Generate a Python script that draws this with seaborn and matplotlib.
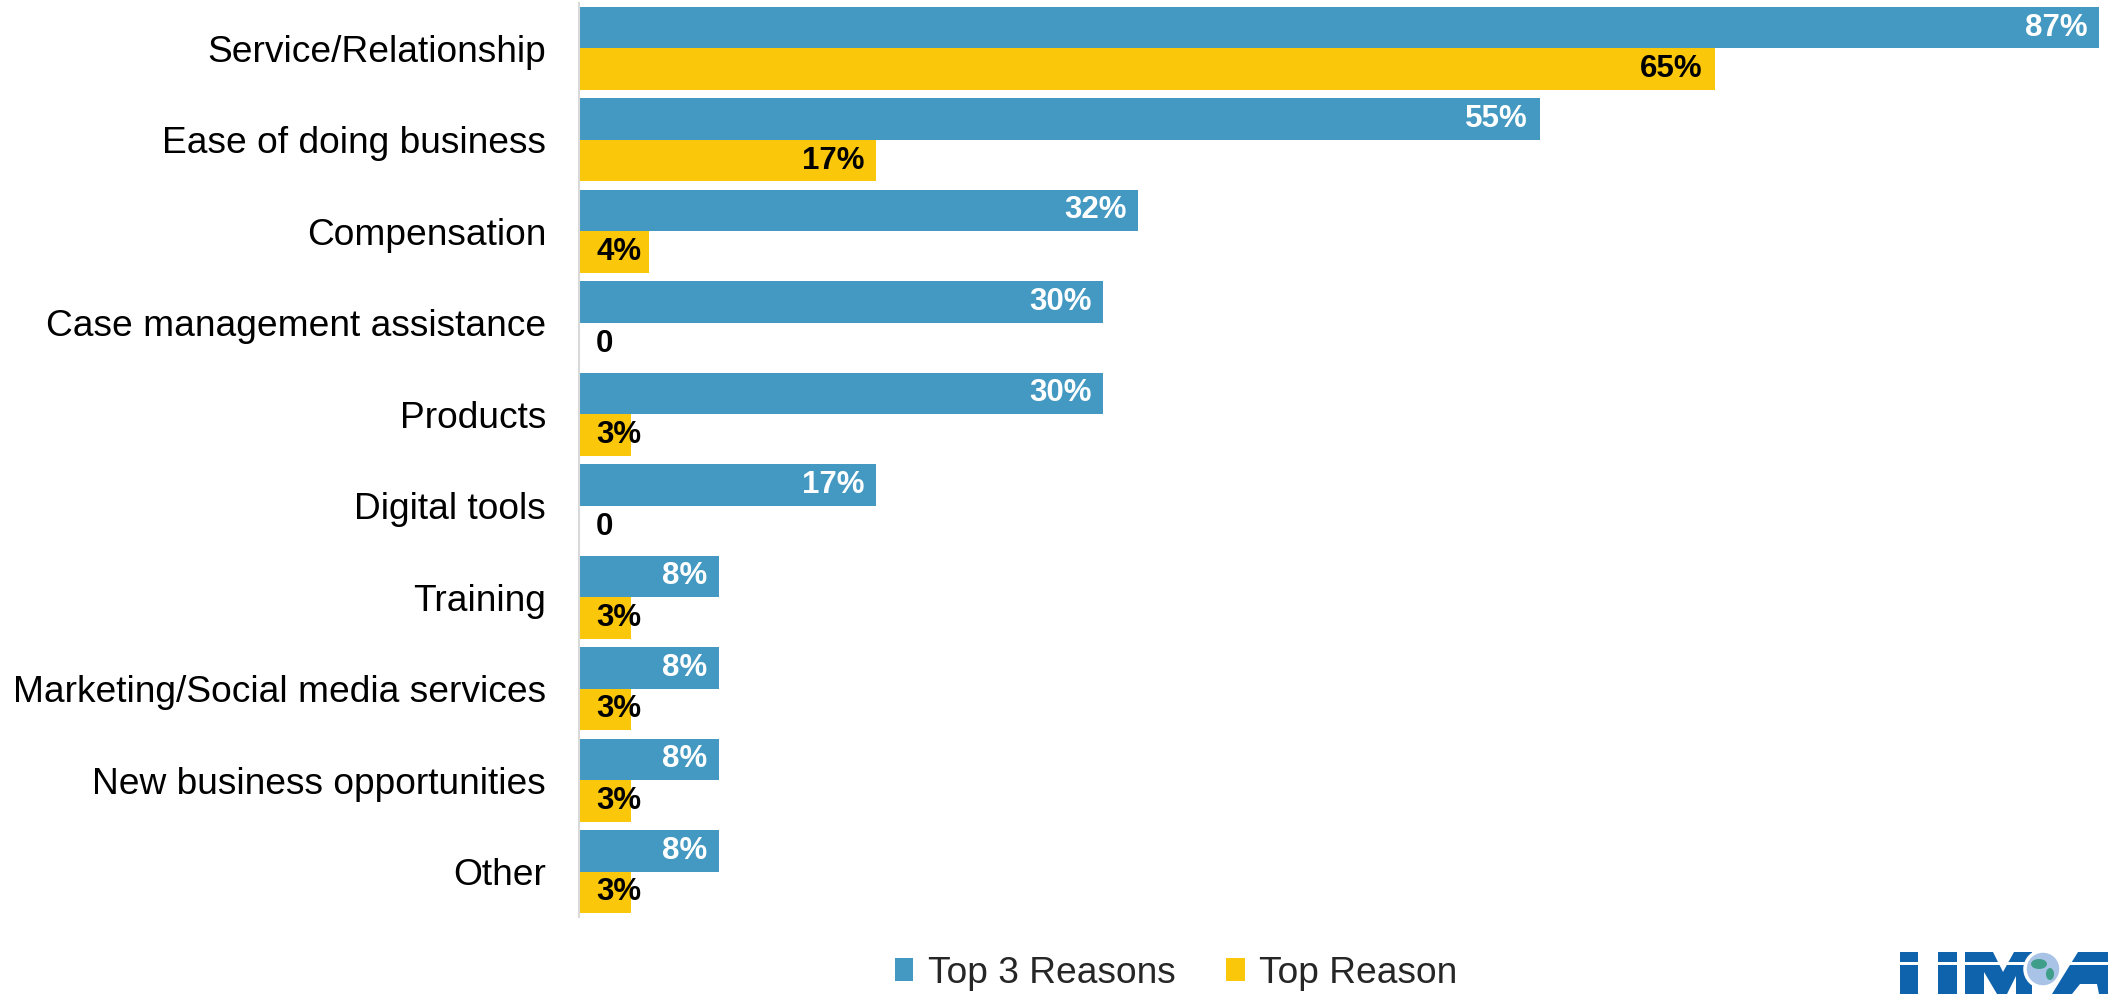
import matplotlib
matplotlib.use("Agg")
import matplotlib.pyplot as plt
import seaborn as sns
import pandas as pd
from matplotlib.patches import Circle, Polygon, Rectangle, Ellipse

categories = ["Service/Relationship", "Ease of doing business", "Compensation",
              "Case management assistance", "Products", "Digital tools", "Training",
              "Marketing/Social media services", "New business opportunities", "Other"]
top3_reasons = [87, 55, 32, 30, 30, 17, 8, 8, 8, 8]
top_reason = [65, 17, 4, 0, 3, 0, 3, 3, 3, 3]
series_names = ["Top 3 Reasons", "Top Reason"]
colors = ["#4399C1", "#FAC70A"]
label_colors = ["white", "black"]

df = pd.DataFrame({
    "category": categories * 2,
    "value": top3_reasons + top_reason,
    "series": [series_names[0]] * len(categories) + [series_names[1]] * len(categories),
})

sns.set_theme(style="white")
plt.rcParams["font.family"] = ["Liberation Sans", "DejaVu Sans"]

W, H = 2108, 994
fig = plt.figure(figsize=(W / 100, H / 100), dpi=100)
ax = fig.add_axes([0.2747, 0.0771, 0.7253, 0.9203])

sns.barplot(data=df, y="category", x="value", hue="series", orient="h",
            palette=colors, saturation=1, width=0.91, gap=0, ax=ax, linewidth=0,
            order=categories, hue_order=series_names, legend=True)

ax.set_xlim(0, 87.5)
ax.set_ylim(9.5, -0.5)
ax.set_xlabel("")
ax.set_ylabel("")
ax.set_xticks([])
ax.tick_params(axis="y", length=0, pad=23.8, labelsize=26.7, labelcolor="black")
for s in ["top", "right", "bottom"]:
    ax.spines[s].set_visible(False)
ax.spines["left"].set_color("#d9d9d9")
ax.spines["left"].set_linewidth(1.5)

series_vals = [top3_reasons, top_reason]
for cont, vals, lc in zip(ax.containers, series_vals, label_colors):
    for patch, v in zip(cont.patches, vals):
        yc = patch.get_y() + patch.get_height() / 2
        txt = "0" if v == 0 else f"{v}%"
        if v < 5:
            ax.annotate(txt, (0, yc), xytext=(12.2, 0), textcoords="offset points",
                        ha="left", va="center", fontsize=22.5, fontweight="bold",
                        color="black")
        else:
            ax.annotate(txt, (v, yc), xytext=(-8.6, 0), textcoords="offset points",
                        ha="right", va="center", fontsize=22.5, fontweight="bold",
                        color=lc)

handles, labels = ax.get_legend_handles_labels()
ax.legend_.remove()
fig.legend(handles, labels, loc="center", bbox_to_anchor=(0.558, 0.021),
           ncol=2, frameon=False, fontsize=26.7, handlelength=0.5,
           handleheight=0.6, handletextpad=0.4, columnspacing=1.35)

# logo (partially cut off at the bottom right), drawn as shapes
def P(x, y):
    return (x / W, 1 - y / H)

logo_blue = "#0F62AC"
shapes = [
    Polygon([P(1900, 994), P(1900, 952), P(1918, 952), P(1918, 994)]),
    Polygon([P(1938, 994), P(1938, 952), P(1957, 952), P(1957, 994)]),
    Polygon([P(1965, 994), P(1965, 952), P(1993, 952), P(2003, 972), P(2014, 952),
             P(2032, 952), P(2032, 994), P(2016, 994), P(2016, 976), P(2007, 994),
             P(1997, 994), P(1984, 972), P(1984, 994)]),
    Polygon([P(2052, 994), P(2078, 952), P(2108, 952), P(2108, 994), P(2099, 994),
             P(2097, 984), P(2080, 984), P(2072, 994)]),
]
for sh in shapes:
    sh.set_transform(fig.transFigure)
    sh.set_facecolor(logo_blue)
    sh.set_edgecolor("none")
    fig.patches.append(sh)

stripe = Rectangle(P(1895, 965), 213 / W, 3 / H, transform=fig.transFigure,
                   facecolor="white", edgecolor="none")
fig.patches.append(stripe)
stem = Rectangle(P(2042, 994), 2 / W, 14 / H, transform=fig.transFigure,
                 facecolor="white", edgecolor="none")
fig.patches.append(stem)
globe = Ellipse(P(2043, 969), 36 / W, 36 / H, transform=fig.transFigure,
                facecolor="#A8C3E6", edgecolor="white", linewidth=2.5)
fig.patches.append(globe)
land = Ellipse(P(2039, 964), 16 / W, 10 / H, transform=fig.transFigure,
               facecolor="#3E9E8A", edgecolor="none")
fig.patches.append(land)
land2 = Ellipse(P(2050, 974), 8 / W, 12 / H, transform=fig.transFigure,
                facecolor="#3E9E8A", edgecolor="none")
fig.patches.append(land2)

fig.savefig("out.png", dpi=100)
